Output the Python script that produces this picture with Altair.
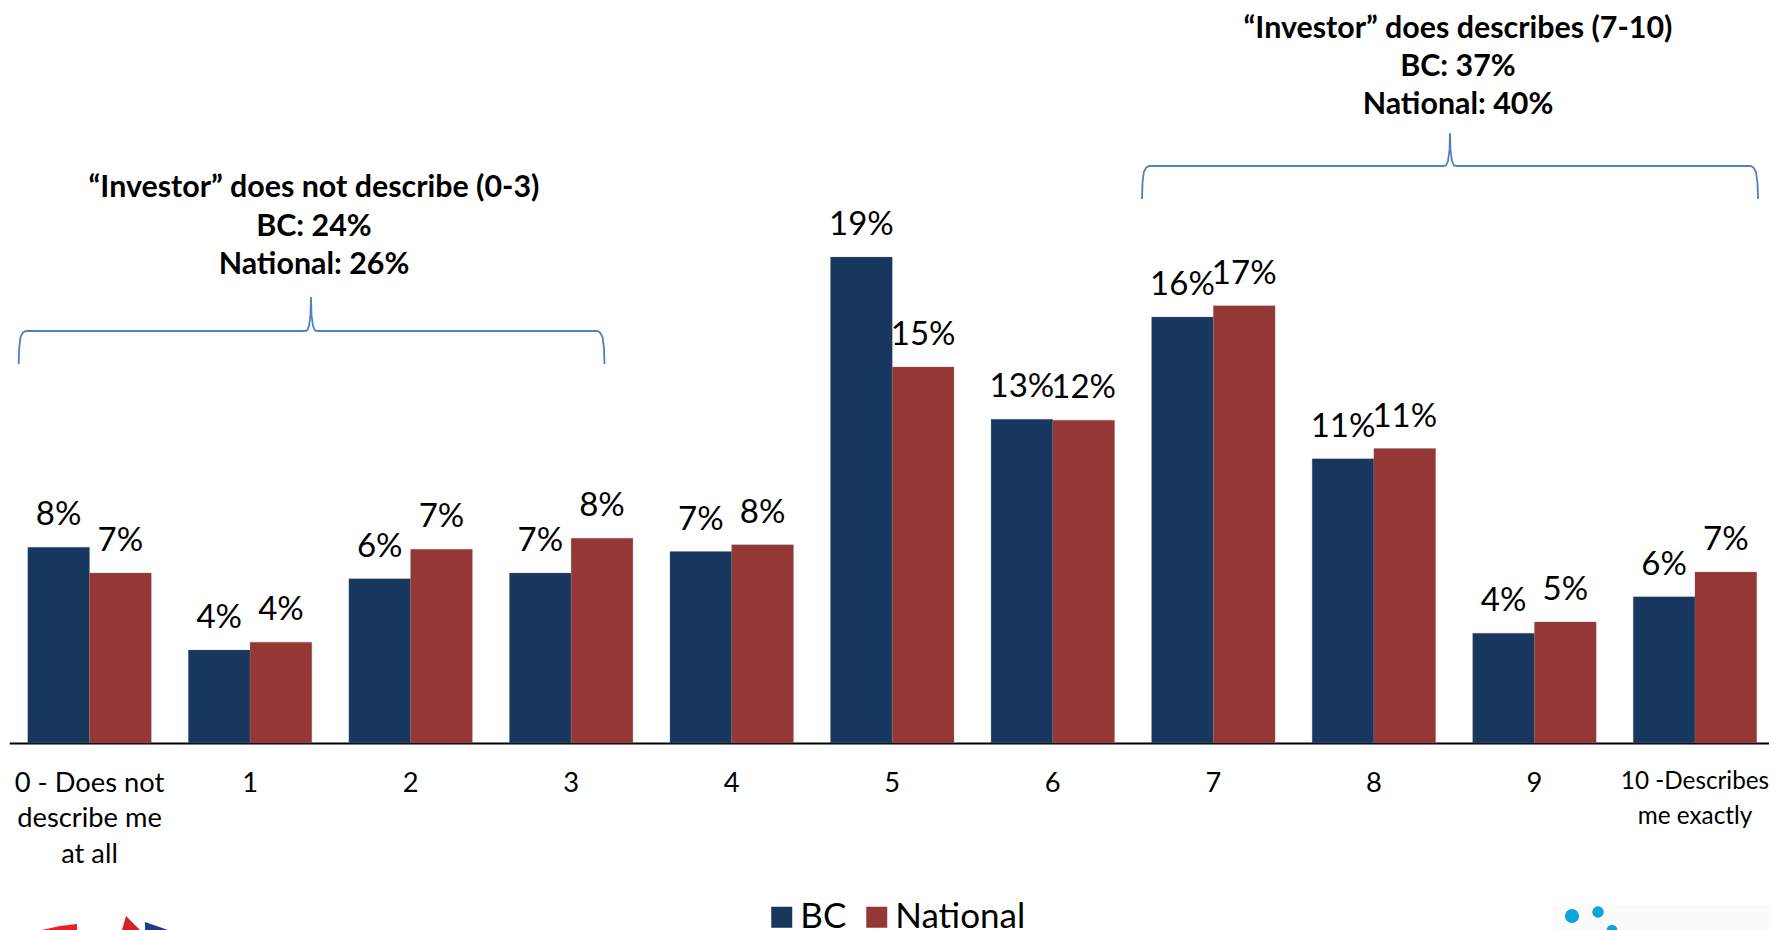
import altair as alt
import pandas as pd

categories = ["0 - Does not|describe me|at all", "1", "2", "3", "4", "5", "6", "7", "8", "9", "10 -Describes|me exactly"]
bc_values = [7.65, 3.63, 6.42, 6.64, 7.48, 18.98, 12.65, 16.64, 11.1, 4.29, 5.71]
national_values = [6.64, 3.94, 7.57, 8.0, 7.74, 14.69, 12.61, 17.08, 11.5, 4.73, 6.68]
bc_labels = ["8%", "4%", "6%", "7%", "7%", "19%", "13%", "16%", "11%", "4%", "6%"]
national_labels = ["7%", "4%", "7%", "8%", "8%", "15%", "12%", "17%", "11%", "5%", "7%"]
series = ["BC", "National"]
colors = ["#17375E", "#953735"]

note_left = ["\u201cInvestor\u201d does not describe (0-3)", "BC: 24%", "National: 26%"]
note_right = ["\u201cInvestor\u201d does describes (7-10)", "BC: 37%", "National: 40%"]

brace_left_x = [18.7, 19.2, 20.5, 23, 26, 304, 307, 309, 310.5, 311, 311.5, 313, 315, 318, 597, 600, 602.5, 604, 604.5]
brace_left_y = [364, 348, 337, 332.5, 331, 331, 330.5, 326, 315, 297, 315, 326, 330.5, 331, 331, 332.5, 337, 348, 364]
brace_right_x = [1142, 1142.5, 1143.8, 1146.3, 1149.3, 1443, 1446, 1448, 1449.5, 1450, 1450.5, 1452, 1454, 1457, 1750.5, 1753.5, 1756, 1757.5, 1758]
brace_right_y = [199, 183, 172, 167.5, 166, 166, 165.5, 161, 150, 133, 150, 161, 165.5, 166, 166, 167.5, 172, 183, 199]

logo_x = [1572, 1598, 1612]
logo_y = [916, 912, 930]
logo_size = [200, 135, 115]
red_x = [42, 60, 77]
red_y = [930, 926, 924]
flag_red_x = [122, 126, 140]
flag_red_y = [930, 916, 930]
flag_blue_x = [145, 168]
flag_blue_y = [922, 930]

W, H = 1759, 735
SPAN = 1766
PAD_L = 1.25
BOTTOM = 187
y_dom = [0, H / 25.6]

df = pd.DataFrame({
    "cat": categories * 2,
    "series": ["BC"] * 11 + ["National"] * 11,
    "value": bc_values + national_values,
    "label": bc_labels + national_labels,
})

band = alt.Scale(paddingInner=0.231, paddingOuter=0.1155, round=False, range=[0, SPAN])
x_band = alt.X("cat:N", sort=categories, title=None, scale=band,
               axis=alt.Axis(labelExpr="split(datum.label, '|')", labelAngle=0,
                             labelFontSize={"condition": {"test": "indexof(datum.value, '10 -') == 0", "value": 24.3}, "value": 27.3},
                             labelFont="Lato", labelColor="#000000", labelLineHeight=35.5, labelPadding=26,
                             ticks=False, domainColor="#000000", domainWidth=2, grid=False, labelBaseline="top",
                             labelOverlap=False, labelFlush=False))
x_off = alt.XOffset("series:N", sort=series)
y_val = alt.Y("value:Q", scale=alt.Scale(domain=y_dom, nice=False), axis=None)

bars = alt.Chart(df).mark_bar(stroke="#777777", strokeWidth=0.6, strokeOpacity=0.5).encode(
    x=x_band, xOffset=x_off, y=y_val,
    color=alt.Color("series:N", sort=series, scale=alt.Scale(domain=series, range=colors),
                    legend=alt.Legend(title=None, orient="none", legendX=755, legendY=891.5, direction="horizontal",
                                      symbolType="square", symbolSize=441, symbolStrokeWidth=0,
                                      labelFontSize=35, labelFont="Lato", labelColor="#000000",
                                      columnPadding=12, labelOffset=1)),
)
labels = alt.Chart(df).mark_text(font="Lato", fontSize=33, color="#000000", baseline="middle", dy=-32).encode(
    x=alt.X("cat:N", sort=categories, title=None, axis=None, scale=band),
    xOffset=x_off, y=y_val, text="label:N",
)

x_px = alt.X("px:Q", scale=alt.Scale(domain=[8 + PAD_L, 8 + PAD_L + W], range=[0, W]), axis=None)
y_px = alt.Y("py:Q", scale=alt.Scale(domain=[8, 8 + H], range=[0, H]), axis=None)

def brace(xs, ys):
    d = pd.DataFrame({"px": xs, "py": ys, "i": range(len(xs))})
    return alt.Chart(d).mark_line(color="#4F81BD", strokeWidth=1.8, clip=False).encode(x=x_px, y=y_px, order="i:Q")

def note(lines, cx, ys):
    d = pd.DataFrame({"px": [cx] * 3, "py": ys, "t": lines})
    return alt.Chart(d).mark_text(font="Lato", fontWeight="bold", fontSize=30.4, color="#000000",
                                  baseline="middle", align="center").encode(x=x_px, y=y_px, text="t:N")

def piece(xs, ys, color):
    d = pd.DataFrame({"px": xs, "py": ys, "py2": [930] * len(xs)})
    return alt.Chart(d).mark_area(color=color).encode(x=x_px, y=y_px, y2="py2:Q")

panel = alt.Chart(pd.DataFrame({"px": [1553], "px2": [1769], "py": [905], "py2": [930]})).mark_rect(color="#FBFBFB").encode(
    x=x_px, x2="px2:Q", y=y_px, y2="py2:Q")
dots = alt.Chart(pd.DataFrame({"px": logo_x, "py": logo_y, "s": logo_size})).mark_circle(color="#0BA5DE", opacity=1).encode(
    x=x_px, y=y_px, size=alt.Size("s:Q", scale=None, legend=None))

chart = alt.layer(
    bars, labels,
    brace(brace_left_x, brace_left_y), brace(brace_right_x, brace_right_y),
    note(note_left, 314, [188, 226.5, 265]),
    note(note_right, 1458, [29, 67, 105]),
    piece(red_x, red_y, "#EE1C25"), piece(flag_red_x, flag_red_y, "#D2232A"), piece(flag_blue_x, flag_blue_y, "#1F3A8A"),
    panel, dots,
).resolve_scale(x="independent", y="independent", size="independent").properties(
    width=W, height=H,
    autosize=alt.AutoSizeParams(type="none"),
    padding={"left": PAD_L, "right": 0.75, "top": 0, "bottom": BOTTOM},
).configure_view(stroke=None)

chart.save("out.html", embed_options={"renderer": "svg", "actions": False})
